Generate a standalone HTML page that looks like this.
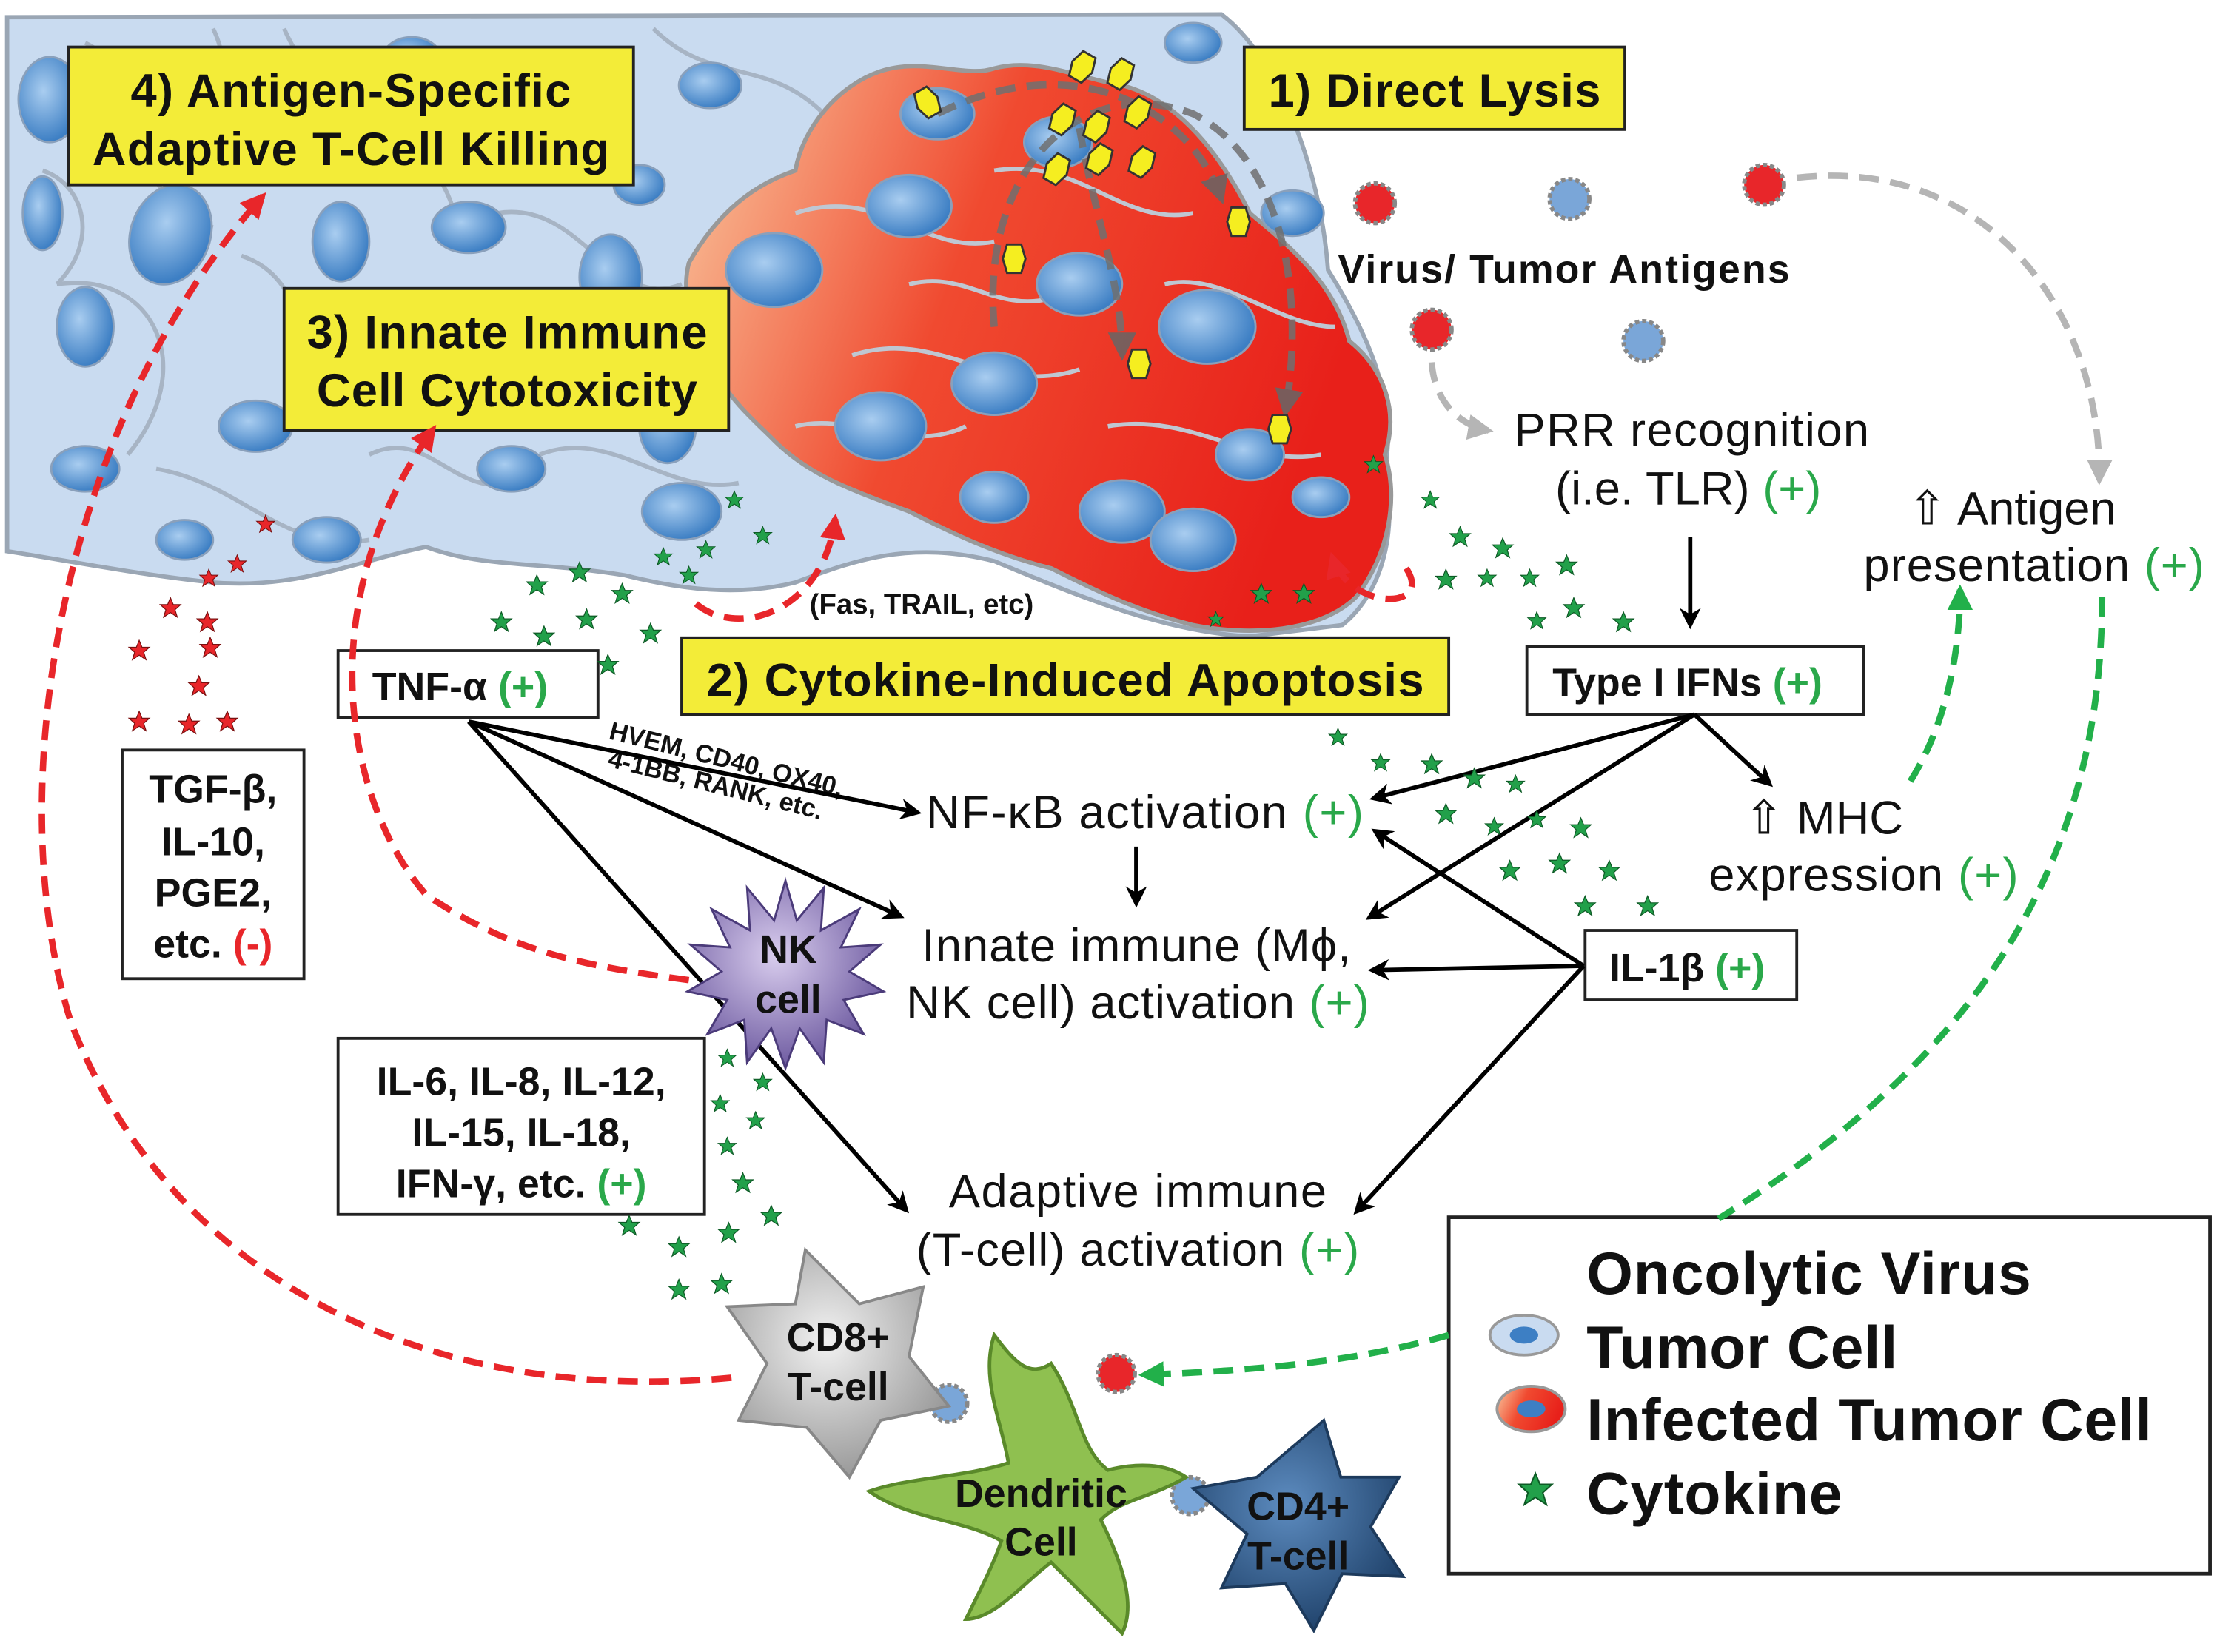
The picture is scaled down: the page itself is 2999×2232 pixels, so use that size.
<!DOCTYPE html>
<html><head><meta charset="utf-8"><style>
html,body{margin:0;padding:0;background:#fff}
svg{display:block}
text{font-family:"Liberation Sans",sans-serif}
.b{font-weight:bold}
.g{fill:#2aa84a}
.r{fill:#e8262a}
</style></head><body>
<svg width="2999" height="2232" viewBox="0 0 1563 1163" xmlns="http://www.w3.org/2000/svg">
<defs>
<radialGradient id="nuc" cx="40%" cy="40%" r="60%"><stop offset="0" stop-color="#a9cdf0"/><stop offset="1" stop-color="#3d7fc4"/></radialGradient>
<linearGradient id="inf" x1="0" y1="0" x2="1" y2="0.3"><stop offset="0" stop-color="#f9c9a0"/><stop offset="0.45" stop-color="#f04a30"/><stop offset="1" stop-color="#e8201a"/></linearGradient>
<radialGradient id="nk" cx="45%" cy="40%" r="60%"><stop offset="0" stop-color="#d9cdee"/><stop offset="1" stop-color="#6d5aa0"/></radialGradient>
<radialGradient id="cd8" cx="45%" cy="40%" r="60%"><stop offset="0" stop-color="#f2f2f2"/><stop offset="1" stop-color="#9a9a9a"/></radialGradient>
<radialGradient id="cd4" cx="45%" cy="40%" r="60%"><stop offset="0" stop-color="#5d8cc0"/><stop offset="1" stop-color="#22456e"/></radialGradient>
<marker id="ab" viewBox="0 0 10 10" refX="8" refY="5" markerWidth="5" markerHeight="5" orient="auto"><path d="M0,0L10,5L0,10L3,5z" fill="#000"/></marker>
<marker id="ar" viewBox="0 0 10 10" refX="8" refY="5" markerWidth="4" markerHeight="4" orient="auto"><path d="M0,0L10,5L0,10z" fill="#e8262a"/></marker>
<marker id="ag" viewBox="0 0 10 10" refX="8" refY="5" markerWidth="4" markerHeight="4" orient="auto"><path d="M0,0L10,5L0,10z" fill="#22b04a"/></marker>
<marker id="ay" viewBox="0 0 10 10" refX="8" refY="5" markerWidth="4" markerHeight="4" orient="auto"><path d="M0,0L10,5L0,10z" fill="#b5b5b5"/></marker>
<marker id="ad" viewBox="0 0 10 10" refX="8" refY="5" markerWidth="4" markerHeight="4" orient="auto"><path d="M0,0L10,5L0,10z" fill="#666"/></marker>
<symbol id="st" viewBox="-10 -10 20 20"><path d="M0,-9L2.5,-3L9,-3L4,1.5L6,8L0,4L-6,8L-4,1.5L-9,-3L-2.5,-3z" fill="#22a04a" stroke="#0d5a25" stroke-width="0.8"/></symbol>
<symbol id="rs" viewBox="-10 -10 20 20"><path d="M0,-9L2.5,-3L9,-3L4,1.5L6,8L0,4L-6,8L-4,1.5L-9,-3L-2.5,-3z" fill="#e8262a" stroke="#7a1010" stroke-width="0.8"/></symbol>
<symbol id="vir" viewBox="-10 -14 20 28"><path d="M-5,-10L5,-10L8,0L5,10L-5,10L-8,0z" fill="#f5ee20" stroke="#333" stroke-width="1.5"/></symbol>
</defs>

<!-- tumor cell mass -->
<path d="M5,12 L860,10 C900,40 930,120 935,190 C960,230 985,280 975,330 C985,380 970,420 945,440 L880,448 C820,445 760,420 700,395 C640,380 600,395 560,410 C520,420 480,415 440,405 C380,395 340,400 300,385 C250,395 210,415 150,410 C100,405 50,395 5,388 Z" fill="#c9dbf0" stroke="#9aa6b4" stroke-width="3"/>
<g fill="none" stroke="#a7b4c4" stroke-width="3">
<path d="M60,30 C120,60 80,140 150,160 M200,20 C230,90 300,80 320,150 M40,200 C110,190 140,260 90,320 M170,180 C230,200 200,280 260,300 M350,150 C410,140 430,220 480,200 M110,330 C170,340 200,390 260,380 M380,320 C430,300 470,350 520,340 M460,20 C500,60 540,40 580,80 M30,120 C60,130 70,170 40,200 M150,20 C170,60 140,100 180,120 M400,50 C440,80 420,120 460,140 M260,320 C300,300 320,350 360,340"/>
</g>
<!-- infected region -->
<path d="M485,185 C505,150 530,130 560,120 C565,90 590,60 620,50 C650,40 680,55 700,48 C730,40 760,55 790,60 C830,70 860,110 880,150 C910,175 940,200 950,240 C975,260 985,290 975,320 C985,350 978,390 955,420 C930,445 880,448 840,440 C800,430 770,415 740,400 C700,390 670,375 640,360 C600,345 570,335 545,310 C525,290 500,270 500,240 C485,225 480,205 485,185 Z" fill="url(#inf)" stroke="#999" stroke-width="3"/>
<g fill="none" stroke="#bfc7d2" stroke-width="3">
<path d="M560,150 C620,130 650,180 700,170 M600,250 C660,230 700,280 760,260 M700,120 C760,110 790,160 840,150 M780,300 C840,290 880,330 930,320 M560,300 C600,290 640,320 680,300 M820,200 C860,190 900,230 940,230 M640,200 C680,190 700,220 740,210"/>
</g>
<!-- nuclei -->
<g fill="url(#nuc)" stroke="#8aa0bb" stroke-width="1.5">
<ellipse cx="35" cy="70" rx="22" ry="30"/><ellipse cx="120" cy="165" rx="28" ry="36" transform="rotate(20 120 165)"/><ellipse cx="60" cy="230" rx="20" ry="28"/><ellipse cx="180" cy="300" rx="26" ry="18"/><ellipse cx="60" cy="330" rx="24" ry="16"/><ellipse cx="240" cy="170" rx="20" ry="28"/><ellipse cx="330" cy="160" rx="26" ry="18"/><ellipse cx="430" cy="195" rx="22" ry="30"/><ellipse cx="360" cy="330" rx="24" ry="16"/><ellipse cx="470" cy="300" rx="20" ry="26"/><ellipse cx="480" cy="360" rx="28" ry="20"/><ellipse cx="230" cy="380" rx="24" ry="16"/><ellipse cx="130" cy="380" rx="20" ry="14"/><ellipse cx="500" cy="60" rx="22" ry="16"/><ellipse cx="450" cy="130" rx="18" ry="14"/><ellipse cx="840" cy="30" rx="20" ry="14"/><ellipse cx="910" cy="150" rx="22" ry="16"/><ellipse cx="30" cy="150" rx="14" ry="26"/><ellipse cx="290" cy="40" rx="20" ry="14"/>
<ellipse cx="545" cy="190" rx="34" ry="26"/><ellipse cx="640" cy="145" rx="30" ry="22"/><ellipse cx="620" cy="300" rx="32" ry="24"/><ellipse cx="700" cy="270" rx="30" ry="22"/><ellipse cx="760" cy="200" rx="30" ry="22"/><ellipse cx="745" cy="100" rx="24" ry="18"/><ellipse cx="850" cy="230" rx="34" ry="26"/><ellipse cx="790" cy="360" rx="30" ry="22"/><ellipse cx="880" cy="320" rx="24" ry="18"/><ellipse cx="840" cy="380" rx="30" ry="22"/><ellipse cx="700" cy="350" rx="24" ry="18"/><ellipse cx="930" cy="350" rx="20" ry="14"/><ellipse cx="660" cy="80" rx="26" ry="18"/>
</g>
<!-- direct lysis gray arrows -->
<g fill="none" stroke="#707070" stroke-width="5" stroke-dasharray="14,8" opacity="0.85">
<path d="M700,230 C690,120 760,50 840,80 C900,110 920,200 905,290" marker-end="url(#ad)"/>
<path d="M760,90 C770,150 790,200 790,250" marker-end="url(#ad)"/>
<path d="M660,80 C760,30 840,80 860,140" marker-end="url(#ad)"/>
</g>
<!-- viruses -->
<g>
<use href="#vir" x="643" y="58" width="20" height="28" transform="rotate(-30 653 72)"/>
<use href="#vir" x="752" y="33" width="20" height="28" transform="rotate(30 762 47)"/>
<use href="#vir" x="779" y="38" width="20" height="28" transform="rotate(30 789 52)"/>
<use href="#vir" x="738" y="70" width="20" height="28" transform="rotate(30 748 84)"/>
<use href="#vir" x="762" y="75" width="20" height="28" transform="rotate(30 772 89)"/>
<use href="#vir" x="791" y="65" width="20" height="28" transform="rotate(30 801 79)"/>
<use href="#vir" x="734" y="105" width="20" height="28" transform="rotate(30 744 119)"/>
<use href="#vir" x="764" y="98" width="20" height="28" transform="rotate(30 774 112)"/>
<use href="#vir" x="794" y="100" width="20" height="28" transform="rotate(30 804 114)"/>
<use href="#vir" x="862" y="142" width="20" height="28"/>
<use href="#vir" x="704" y="168" width="20" height="28"/>
<use href="#vir" x="792" y="242" width="20" height="28"/>
<use href="#vir" x="891" y="288" width="20" height="28"/>
<use href="#vir" x="1060" y="876" width="20" height="28" transform="rotate(-15 1070 890)"/>
</g>
<!-- antigens -->
<g stroke="#888" stroke-width="3" stroke-dasharray="3,2">
<circle cx="968" cy="143" r="14" fill="#e8262a"/><circle cx="1105" cy="140" r="14" fill="#7aa6d8"/><circle cx="1242" cy="130" r="14" fill="#e8262a"/><circle cx="1008" cy="232" r="14" fill="#e8262a"/><circle cx="1157" cy="240" r="14" fill="#7aa6d8"/><circle cx="786" cy="967" r="13" fill="#e8262a"/><circle cx="668" cy="988" r="13" fill="#7aa6d8"/><circle cx="838" cy="1053" r="13" fill="#7aa6d8"/>
</g>

<!-- yellow boxes -->
<g fill="#f3ec38" stroke="#222" stroke-width="2">
<rect x="48" y="33" width="398" height="97"/><rect x="200" y="203" width="313" height="100"/><rect x="876" y="33" width="268" height="58"/><rect x="480" y="449" width="540" height="54"/>
</g>
<g class="b" font-size="33" text-anchor="middle" fill="#111">
<text x="247" y="75" textLength="310">4) Antigen-Specific</text><text x="247" y="116" textLength="364">Adaptive T-Cell Killing</text>
<text x="357" y="245" textLength="282">3) Innate Immune</text><text x="357" y="286" textLength="268">Cell Cytotoxicity</text>
<text x="1010" y="75" textLength="234">1) Direct Lysis</text>
<text x="750" y="490" textLength="505">2) Cytokine-Induced Apoptosis</text>
</g>

<!-- white boxes -->
<g fill="#fff" stroke="#222" stroke-width="2">
<rect x="238" y="458" width="183" height="47"/><rect x="1075" y="455" width="237" height="48"/><rect x="1116" y="655" width="149" height="49"/><rect x="86" y="528" width="128" height="161"/><rect x="238" y="731" width="258" height="124"/>
<rect x="1020" y="857" width="536" height="251" stroke-width="2.5"/>
</g>
<g class="b" font-size="28" fill="#111">
<text x="262" y="493">TNF-α <tspan class="g">(+)</tspan></text>
<text x="1093" y="490">Type I IFNs <tspan class="g">(+)</tspan></text>
<text x="1133" y="691">IL-1β <tspan class="g">(+)</tspan></text>
<g text-anchor="middle"><text x="150" y="565">TGF-β,</text><text x="150" y="602">IL-10,</text><text x="150" y="638">PGE2,</text><text x="150" y="674">etc. <tspan class="r">(-)</tspan></text>
<text x="367" y="771">IL-6, IL-8, IL-12,</text><text x="367" y="807">IL-15, IL-18,</text><text x="367" y="843">IFN-γ, etc. <tspan class="g">(+)</tspan></text></g>
<text x="942" y="199" font-size="28" textLength="318">Virus/ Tumor Antigens</text>
<text x="570" y="432" font-size="20">(Fas, TRAIL, etc)</text>
<g font-size="18" transform="rotate(14 428 520)"><text x="428" y="520">HVEM, CD40, OX40,</text><text x="432" y="539">4-1BB, RANK, etc.</text></g>
</g>
<g font-size="33" fill="#111">
<text x="1066" y="314" textLength="250">PRR recognition</text><text x="1095" y="355">(i.e. TLR) <tspan class="g">(+)</tspan></text>
<text x="1343" y="369">⇧ Antigen</text><text x="1312" y="409" textLength="240">presentation <tspan class="g">(+)</tspan></text>
<text x="652" y="583" textLength="308">NF-κB activation <tspan class="g">(+)</tspan></text>
<text x="649" y="677" textLength="302">Innate immune (Mϕ,</text><text x="638" y="717" textLength="326">NK cell) activation <tspan class="g">(+)</tspan></text>
<text x="1228" y="587">⇧  MHC</text><text x="1203" y="627" textLength="218">expression <tspan class="g">(+)</tspan></text>
<text x="668" y="850" textLength="266">Adaptive immune</text><text x="645" y="891" textLength="312">(T-cell) activation <tspan class="g">(+)</tspan></text>
</g>
<g class="b" font-size="42" fill="#111">
<text x="1117" y="911" textLength="313">Oncolytic Virus</text><text x="1117" y="963" textLength="219">Tumor Cell</text><text x="1117" y="1014" textLength="398">Infected Tumor Cell</text><text x="1117" y="1066" textLength="180">Cytokine</text>
</g>
<ellipse cx="1073" cy="940" rx="24" ry="14" fill="#c9dbf0" stroke="#999" stroke-width="2"/><ellipse cx="1073" cy="940" rx="10" ry="6" fill="#3d7fc4"/>
<ellipse cx="1078" cy="992" rx="24" ry="16" fill="url(#inf)" stroke="#999" stroke-width="2"/><ellipse cx="1078" cy="992" rx="10" ry="6" fill="#3d7fc4"/>
<use href="#st" x="1068" y="1036" width="26" height="26"/>

<!-- black arrows -->
<g stroke="#000" stroke-width="3" fill="none" marker-end="url(#ab)">
<path d="M330,508L646,572"/><path d="M330,508L634,645"/><path d="M330,508L638,852"/>
<path d="M800,596L800,636"/><path d="M1190,378L1190,440"/>
<path d="M1193,503L967,562"/><path d="M1193,503L964,646"/><path d="M1193,503L1246,552"/>
<path d="M1115,680L968,585"/><path d="M1115,680L966,683"/><path d="M1115,680L955,853"/>
</g>

<!-- red dashed -->
<g stroke="#e8262a" stroke-width="4.5" fill="none" stroke-dasharray="14,8" marker-end="url(#ar)">
<path d="M515,970 C300,990 120,900 50,720 C0,560 40,300 185,138"/>
<path d="M485,690 C410,680 360,670 300,630 C240,560 220,420 305,302"/>
<path d="M490,425 C520,450 580,430 588,365"/>
<path d="M990,400 C1010,430 950,430 938,392"/>
</g>
<!-- gray dashed -->
<g stroke="#b5b5b5" stroke-width="4.5" fill="none" stroke-dasharray="14,8" marker-end="url(#ay)">
<path d="M1265,125 C1400,110 1480,220 1478,338"/><path d="M1008,255 C1010,285 1030,300 1048,303"/>
</g>
<!-- green dashed -->
<g stroke="#22b04a" stroke-width="4.5" fill="none" stroke-dasharray="14,8" marker-end="url(#ag)">
<path d="M1345,550 C1370,510 1380,460 1380,415"/><path d="M1480,420 C1480,600 1400,740 1210,858" marker-end="none"/><path d="M1020,940 C950,960 880,965 805,968"/>
</g>

<!-- cytokine stars -->
<g>
<use href="#st" x="370" y="404" width="16" height="16"/><use href="#st" x="400" y="395" width="16" height="16"/><use href="#st" x="430" y="410" width="16" height="16"/><use href="#st" x="345" y="430" width="16" height="16"/><use href="#st" x="375" y="440" width="16" height="16"/><use href="#st" x="405" y="428" width="16" height="16"/><use href="#st" x="450" y="438" width="16" height="16"/><use href="#st" x="420" y="460" width="16" height="16"/><use href="#st" x="460" y="385" width="14" height="14"/><use href="#st" x="490" y="380" width="14" height="14"/><use href="#st" x="510" y="345" width="14" height="14"/><use href="#st" x="530" y="370" width="14" height="14"/><use href="#st" x="478" y="398" width="14" height="14"/>
<use href="#st" x="960" y="320" width="14" height="14"/><use href="#st" x="1000" y="345" width="14" height="14"/><use href="#st" x="1020" y="370" width="16" height="16"/><use href="#st" x="1050" y="378" width="16" height="16"/><use href="#st" x="1010" y="400" width="16" height="16"/><use href="#st" x="1040" y="400" width="14" height="14"/><use href="#st" x="1070" y="400" width="14" height="14"/><use href="#st" x="1095" y="390" width="16" height="16"/><use href="#st" x="1100" y="420" width="16" height="16"/><use href="#st" x="1135" y="430" width="16" height="16"/><use href="#st" x="1075" y="430" width="14" height="14"/><use href="#st" x="880" y="410" width="16" height="16"/><use href="#st" x="910" y="410" width="16" height="16"/><use href="#st" x="850" y="430" width="12" height="12"/>
<use href="#st" x="935" y="512" width="14" height="14"/><use href="#st" x="965" y="530" width="14" height="14"/><use href="#st" x="1000" y="530" width="16" height="16"/><use href="#st" x="1030" y="540" width="16" height="16"/><use href="#st" x="1060" y="545" width="14" height="14"/><use href="#st" x="1010" y="565" width="16" height="16"/><use href="#st" x="1045" y="575" width="14" height="14"/><use href="#st" x="1075" y="570" width="14" height="14"/><use href="#st" x="1105" y="575" width="16" height="16"/><use href="#st" x="1055" y="605" width="16" height="16"/><use href="#st" x="1090" y="600" width="16" height="16"/><use href="#st" x="1125" y="605" width="16" height="16"/><use href="#st" x="1108" y="630" width="16" height="16"/><use href="#st" x="1152" y="630" width="16" height="16"/>
<use href="#st" x="505" y="738" width="14" height="14"/><use href="#st" x="530" y="755" width="14" height="14"/><use href="#st" x="500" y="770" width="14" height="14"/><use href="#st" x="525" y="782" width="14" height="14"/><use href="#st" x="505" y="800" width="14" height="14"/><use href="#st" x="515" y="825" width="16" height="16"/><use href="#st" x="535" y="848" width="16" height="16"/><use href="#st" x="505" y="860" width="16" height="16"/><use href="#st" x="470" y="870" width="16" height="16"/><use href="#st" x="435" y="855" width="16" height="16"/><use href="#st" x="470" y="900" width="16" height="16"/><use href="#st" x="500" y="896" width="16" height="16"/>
<use href="#rs" x="180" y="362" width="14" height="14"/><use href="#rs" x="160" y="390" width="14" height="14"/><use href="#rs" x="140" y="400" width="14" height="14"/><use href="#rs" x="112" y="420" width="16" height="16"/><use href="#rs" x="138" y="430" width="16" height="16"/><use href="#rs" x="90" y="450" width="16" height="16"/><use href="#rs" x="140" y="448" width="16" height="16"/><use href="#rs" x="132" y="475" width="16" height="16"/><use href="#rs" x="90" y="500" width="16" height="16"/><use href="#rs" x="125" y="502" width="16" height="16"/><use href="#rs" x="152" y="500" width="16" height="16"/>
</g>

<!-- immune cells -->
<path d="M553,620 L561,648 L580,625 L578,655 L605,640 L592,667 L620,665 L598,684 L622,698 L594,704 L608,728 L582,718 L580,748 L563,724 L553,752 L543,724 L526,748 L524,718 L498,728 L512,704 L484,698 L508,684 L486,665 L514,667 L501,640 L528,655 L526,625 L545,648 Z" fill="url(#nk)" stroke="#4b3b7a" stroke-width="1.5"/>
<text x="555" y="678" class="b" font-size="28" text-anchor="middle" fill="#111">NK</text><text x="555" y="713" class="b" font-size="28" text-anchor="middle" fill="#111">cell</text>
<path d="M567,880 L605,918 L650,906 L640,955 L668,990 L620,1000 L598,1040 L568,1005 L520,1000 L540,960 L512,920 L560,918 Z" fill="url(#cd8)" stroke="#888" stroke-width="2"/>
<text x="590" y="951" class="b" font-size="28" text-anchor="middle" fill="#111">CD8+</text><text x="590" y="986" class="b" font-size="28" text-anchor="middle" fill="#111">T-cell</text>
<path d="M740,960 C760,990 760,1020 780,1035 C800,1030 820,1030 835,1040 C810,1055 790,1055 775,1070 C790,1100 800,1130 790,1150 C770,1130 750,1110 740,1100 C720,1115 700,1140 680,1140 C690,1120 700,1100 705,1085 C680,1070 640,1070 612,1050 C640,1040 680,1040 710,1030 C705,1000 690,970 700,940 C715,960 725,970 740,960 Z" fill="#8fc050" stroke="#5a8a2a" stroke-width="2.5"/>
<text x="733" y="1061" class="b" font-size="28" text-anchor="middle" fill="#111">Dendritic</text><text x="733" y="1095" class="b" font-size="28" text-anchor="middle" fill="#111">Cell</text>
<path d="M932,1000 L944,1040 L985,1040 L965,1075 L988,1110 L945,1108 L925,1148 L905,1115 L860,1118 L878,1080 L840,1048 L885,1040 Z" fill="url(#cd4)" stroke="#1d3a5c" stroke-width="2"/>
<text x="914" y="1070" class="b" font-size="28" text-anchor="middle" fill="#111">CD4+</text><text x="914" y="1105" class="b" font-size="28" text-anchor="middle" fill="#111">T-cell</text>
</svg>
</body></html>
